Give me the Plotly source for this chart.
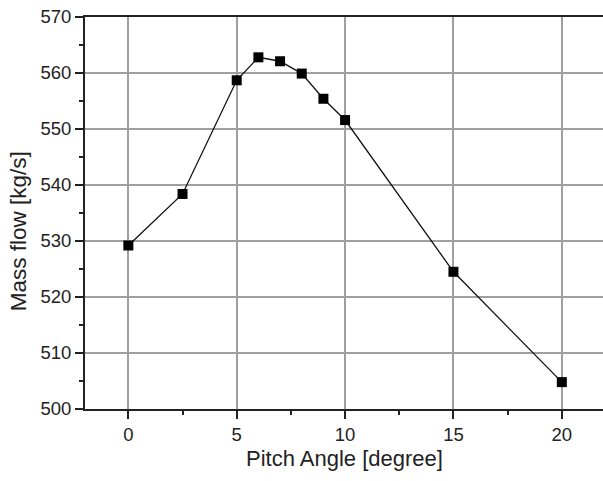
import plotly.graph_objects as go

pitch_angle = [0, 2.5, 5, 6, 7, 8, 9, 10, 15, 20]
mass_flow = [529.2, 538.4, 558.7, 562.8, 562.1, 559.9, 555.4, 551.6, 524.5, 504.8]

x_ticks = [0, 5, 10, 15, 20]
y_ticks = [500, 510, 520, 530, 540, 550, 560, 570]

x_title = "Pitch Angle [degree]"
y_title = "Mass flow [kg/s]"

fig = go.Figure()
fig.add_trace(go.Scatter(
    x=pitch_angle, y=mass_flow, mode="lines+markers",
    line=dict(color="#111111", width=1.3),
    marker=dict(symbol="square", size=10, color="#000000"),
    showlegend=False,
))

font_family = "Liberation Sans, Arial, sans-serif"
fig.update_layout(
    width=603, height=481,
    margin=dict(l=85, r=0, t=17, b=72),
    plot_bgcolor="white", paper_bgcolor="white",
    font=dict(family=font_family, color="#222222"),
    xaxis=dict(
        range=[-2, 21.9], tickvals=x_ticks,
        showgrid=True, gridcolor="#a0a0a0", gridwidth=1.5,
        showline=True, linecolor="#222222", linewidth=2, mirror=True,
        ticks="outside", ticklen=8, tickwidth=2, tickcolor="#222222",
        minor=dict(ticks="outside", ticklen=4, tickwidth=2, tickcolor="#222222", dtick=2.5, tick0=0, showgrid=False),
        tickfont=dict(size=18.5, color="#222222"),
        zeroline=False,
    ),
    yaxis=dict(
        range=[500, 570], tickvals=y_ticks,
        showgrid=True, gridcolor="#a0a0a0", gridwidth=1.5,
        showline=True, linecolor="#222222", linewidth=2, mirror=False,
        ticks="outside", ticklen=8, tickwidth=2, tickcolor="#222222",
        minor=dict(ticks="outside", ticklen=4, tickwidth=2, tickcolor="#222222", dtick=5, tick0=500, showgrid=False),
        tickfont=dict(size=18.5, color="#222222"),
        zeroline=False,
    ),
    annotations=[
        dict(text=x_title, xref="paper", yref="paper", x=0.5, y=-0.125,
             xanchor="center", yanchor="middle", showarrow=False,
             font=dict(size=22, color="#222222")),
        dict(text=y_title, xref="paper", yref="paper", x=-0.129, y=0.454,
             xanchor="center", yanchor="middle", showarrow=False, textangle=-90,
             font=dict(size=22.5, color="#222222")),
    ],
)

fig.write_html("out.html")
